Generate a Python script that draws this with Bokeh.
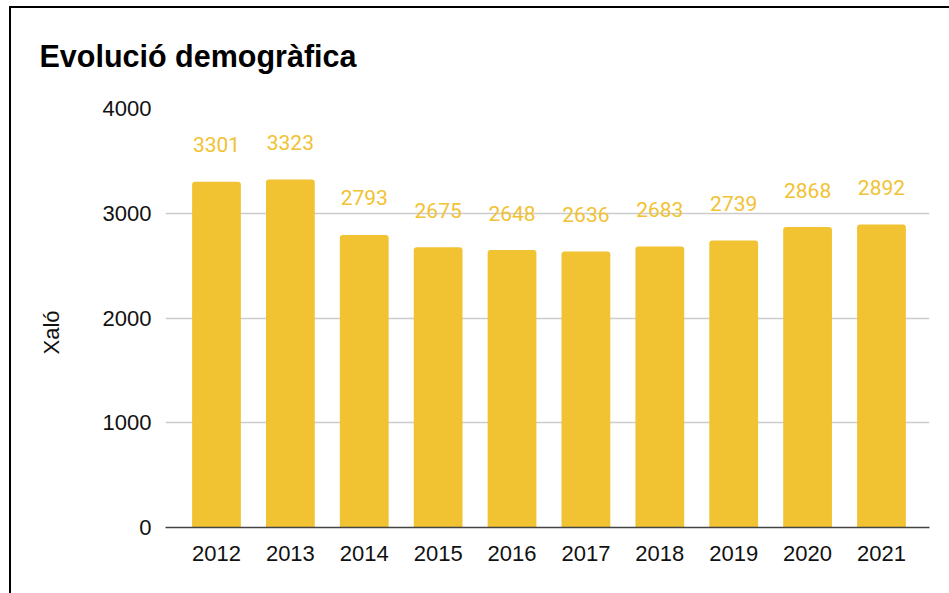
from bokeh.plotting import figure
from bokeh.models import ColumnDataSource, Range1d, FixedTicker, Title
from bokeh.core.properties import value
from bokeh.embed import file_html
from bokeh.resources import INLINE

years = ["2012", "2013", "2014", "2015", "2016", "2017", "2018", "2019", "2020", "2021"]
population = [3301, 3323, 2793, 2675, 2648, 2636, 2683, 2739, 2868, 2892]
y_ticks = [0, 1000, 2000, 3000, 4000]
title_text = "Evolució demogràfica"
y_label = "Xaló"

BAR = "#f1c232"
idx = list(range(len(years)))
src = ColumnDataSource(dict(x=idx, top=population, label=[str(v) for v in population]))

p = figure(width=949, height=593, output_backend="svg", toolbar_location=None,
           x_range=Range1d(-0.69, 9.65), y_range=Range1d(0, 4000),
           min_border_left=165, min_border_right=20, min_border_top=108, min_border_bottom=66)
p.styles = {"box-shadow": "inset 9px 6px 0 0 #fff, inset 11px 8px 0 0 #000"}
p.border_fill_alpha = 0
p.background_fill_color = "white"
p.outline_line_color = None

p.vbar(x="x", top="top", width=0.66, source=src, fill_color=BAR, line_color=None,
       border_radius=(3, 3, 0, 0))
p.text(x="x", y="top", text="label", source=src, y_offset=-37,
       text_align="center", text_baseline="alphabetic", text_color=BAR,
       text_font=value("Roboto"), text_font_size="21px")

# axes
p.xaxis.ticker = FixedTicker(ticks=idx)
p.xaxis.major_label_overrides = {i: y for i, y in enumerate(years)}
p.xaxis.major_tick_line_color = None
p.xaxis.minor_tick_line_color = None
p.xaxis.axis_line_color = "#444444"
p.xaxis.axis_line_width = 1.5
p.xaxis.major_label_standoff = 12
p.xaxis.major_label_text_font = "Liberation Sans"
p.xaxis.major_label_text_font_size = "22px"
p.xaxis.major_label_text_color = "#111111"

p.yaxis.ticker = FixedTicker(ticks=y_ticks)
p.yaxis.major_tick_line_color = None
p.yaxis.minor_tick_line_color = None
p.yaxis.axis_line_color = None
p.yaxis.major_label_standoff = 8
p.yaxis.major_label_text_font = "Liberation Sans"
p.yaxis.major_label_text_font_size = "22px"
p.yaxis.major_label_text_color = "#111111"

p.xgrid.grid_line_color = None
p.ygrid.ticker = FixedTicker(ticks=y_ticks)
p.ygrid.grid_line_color = "#cccccc"
p.ygrid.grid_line_width = 1.3

p.title.text = title_text
p.title.align = "left"
p.title.offset = -126
p.title.standoff = 71
p.title.text_font = "Liberation Sans"
p.title.text_font_style = "bold"
p.title.text_font_size = "30.5px"
p.title.text_color = "#000000"

p.add_layout(Title(text=y_label, align="left", offset=173, standoff=72,
                   text_font="Liberation Sans", text_font_style="normal",
                   text_font_size="22px", text_color="#111111"), "left")

open("out.html", "w").write(file_html(p, INLINE))
